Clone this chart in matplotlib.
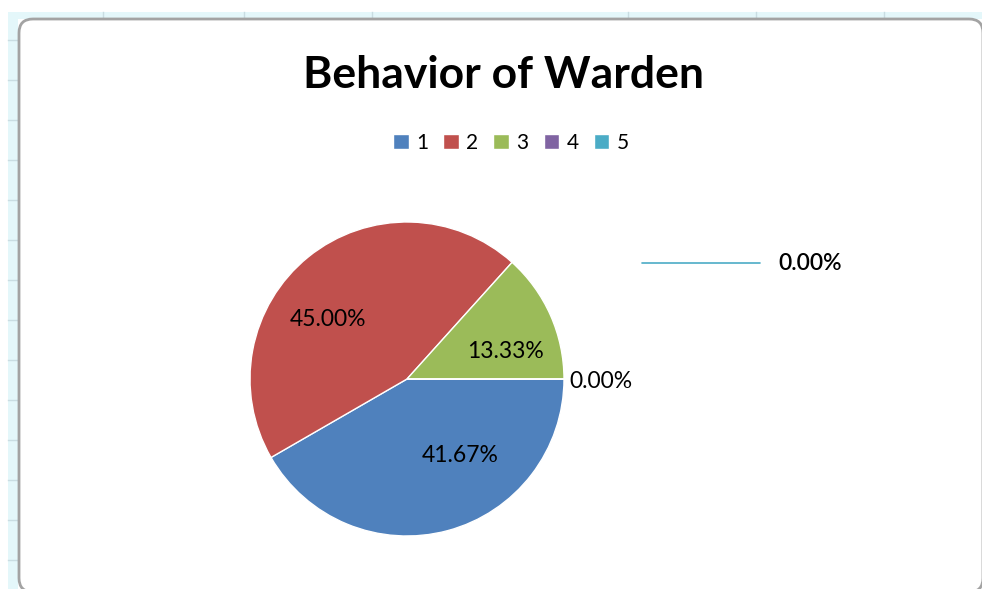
import matplotlib.pyplot as plt
from matplotlib.patches import FancyBboxPatch, Rectangle

plt.rcParams['font.family'] = ['Lato', 'DejaVu Sans']

# data
categories = ['1', '2', '3', '4', '5']
shares = [41.67, 45.00, 13.33, 0.00, 0.00]
colors = ['#4F81BD', '#C0504D', '#9BBB59', '#8064A2', '#4BACC6']
title = 'Behavior of Warden'

W, H = 982, 589


def py(y):
    # screen pixel row -> axes y (axes y points up)
    return H - y


fig = plt.figure(figsize=(W / 100, H / 100), dpi=100)
ax = fig.add_axes([0, 0, 1, 1])

# spreadsheet strips behind the chart
grid_bg = '#e4f7fa'
grid_ln = '#c9dde2'
ax.add_patch(Rectangle((8, py(19)), W, 7, facecolor=grid_bg, edgecolor='none', zorder=0))
ax.add_patch(Rectangle((8, 0), 10, py(12), facecolor=grid_bg, edgecolor='none', zorder=0))
for gx in [103, 244, 372, 628, 756, 884]:
    ax.plot([gx, gx], [py(12), py(19)], color=grid_ln, lw=1, zorder=0)
for gy in range(40, 589, 40):
    ax.plot([8, 18], [py(gy), py(gy)], color=grid_ln, lw=1, zorder=0)

# chart area
ax.add_patch(FancyBboxPatch((19, py(592)), 964, 573,
                            boxstyle='round,pad=0,rounding_size=14',
                            facecolor='white', edgecolor='#a3a3a3', lw=2, zorder=1))

wedges, _ = ax.pie(shares, colors=colors, startangle=0, counterclock=False,
                   center=(407, py(379)), radius=157, frame=True,
                   wedgeprops=dict(edgecolor='white', linewidth=1, zorder=2))
ax.set_xlim(0, W)
ax.set_ylim(0, H)
ax.set_aspect('equal')
ax.axis('off')

# data labels (Excel "best fit" placement)
label_pos = [(460, 456), (328, 320), (505, 352), (601, 382), (810, 264)]
for i, (v, (lx, ly)) in enumerate(zip(shares, label_pos)):
    ax.text(lx, py(ly), f'{v:.2f}%', ha='center', va='center', fontsize=16.5,
            color='black', fontweight='semibold' if i == 4 else 'normal', zorder=3)

# leader line for the last (empty) slice
ax.annotate('', xy=(642, py(263)), xytext=(760, py(263)),
            arrowprops=dict(arrowstyle='-', color=colors[4], lw=1.2,
                            shrinkA=0, shrinkB=0), zorder=3)

ax.text(504, py(75), title, ha='center', va='center', fontsize=32,
        fontweight='bold', color='black', zorder=3)

leg = ax.legend(wedges, categories, loc='center', bbox_to_anchor=(511 / W, 1 - 143 / H),
                ncol=5, frameon=False, fontsize=15, handlelength=0.75, handleheight=0.75,
                handletextpad=0.35, columnspacing=0.72)
leg.set_zorder(4)

fig.savefig('out.png', dpi=100)
